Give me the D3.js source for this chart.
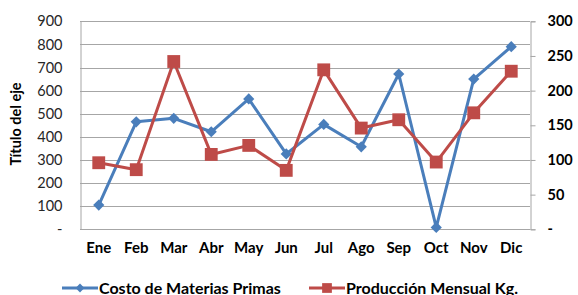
<!DOCTYPE html>
<html>
<head>
<meta charset="utf-8">
<script src="https://cdn.jsdelivr.net/npm/d3@7"></script>
<style>
  body { margin: 0; background: #fff; }
  text { font-family: Lato, "Liberation Sans", sans-serif; }
</style>
</head>
<body>
<div id="chart"></div>
<script>
const months = ["Ene", "Feb", "Mar", "Abr", "May", "Jun", "Jul", "Ago", "Sep", "Oct", "Nov", "Dic"]
const costo = [105, 465, 480, 422, 564, 326, 454, 357, 672, 8, 650, 790]
const produccion = [96, 86, 242, 108, 121, 85, 230, 146, 158, 97, 168, 228]
const leftTicks = [0, 100, 200, 300, 400, 500, 600, 700, 800, 900]
const rightTicks = [0, 50, 100, 150, 200, 250, 300]

const W = 578, H = 295
const plot = { left: 80, right: 530, top: 21.3, bottom: 229.3 }
const blue = "#4A7EBB", red = "#BE4B48"

const svg = d3.select("#chart").append("svg")
  .attr("width", W)
  .attr("height", H)

const x = d3.scaleBand().domain(months).range([plot.left, plot.right])
const yL = d3.scaleLinear().domain([0, 900]).range([plot.bottom, plot.top])
const yR = d3.scaleLinear().domain([0, 300]).range([plot.bottom, plot.top])

// gridlines
svg.append("g")
  .selectAll("line")
  .data(leftTicks.slice(1))
  .enter().append("line")
    .attr("x1", plot.left).attr("x2", plot.right)
    .attr("y1", d => Math.round(yL(d)) + 0.5).attr("y2", d => Math.round(yL(d)) + 0.5)
    .attr("stroke", "#a6a6a6").attr("stroke-width", 1)

// left axis
const leftAxis = svg.append("g")
  .attr("transform", `translate(${plot.left + 0.5},0)`)
  .call(d3.axisLeft(yL).tickValues(leftTicks).tickSize(0).tickPadding(18)
    .tickFormat(d => d === 0 ? "-" : d))
leftAxis.select(".domain").attr("stroke", "#a6a6a6")
leftAxis.selectAll("text")
  .attr("font-size", 14.5).attr("fill", "#262626")
  .style("font-family", "Lato, sans-serif")

// right axis
const rightAxis = svg.append("g")
  .attr("transform", `translate(${plot.right + 0.5},0)`)
  .call(d3.axisRight(yR).tickValues(rightTicks).tickSize(5).tickPadding(12)
    .tickFormat(d => d === 0 ? "-" : d))
rightAxis.select(".domain").attr("stroke", "#a6a6a6")
rightAxis.selectAll(".tick line").attr("stroke", "#a6a6a6")
rightAxis.selectAll("text")
  .attr("font-size", 14.5).attr("font-weight", "bold").attr("fill", "#000")
  .style("font-family", "Lato, sans-serif")

// bottom axis line
svg.append("line")
  .attr("x1", plot.left).attr("x2", plot.right + 0.5)
  .attr("y1", Math.round(plot.bottom) + 0.5).attr("y2", Math.round(plot.bottom) + 0.5)
  .attr("stroke", "#a6a6a6")

// x labels
svg.append("g")
  .selectAll("text")
  .data(months)
  .enter().append("text")
    .attr("x", d => x(d) + x.bandwidth() / 2)
    .attr("y", 253)
    .attr("text-anchor", "middle")
    .attr("font-size", 15).attr("font-weight", "bold").attr("fill", "#000")
    .text(d => d)

// y title
svg.append("text")
  .attr("transform", "translate(21,124) rotate(-90)")
  .attr("text-anchor", "middle")
  .attr("font-size", 14.5).attr("font-weight", "bold").attr("fill", "#000")
  .text("Título del eje")

const cx = (d, i) => x(months[i]) + x.bandwidth() / 2
const diamond = d3.symbol().type(d3.symbolDiamond2).size(80)
const square = d3.symbol().type(d3.symbolSquare).size(165)

// costo series
svg.append("path")
  .datum(costo)
  .attr("fill", "none").attr("stroke", blue).attr("stroke-width", 3)
  .attr("stroke-linejoin", "round")
  .attr("d", d3.line().x(cx).y(d => yL(d)))
svg.append("g")
  .selectAll("path")
  .data(costo)
  .enter().append("path")
    .attr("d", diamond)
    .attr("transform", (d, i) => `translate(${cx(d, i)},${yL(d)})`)
    .attr("fill", blue)

// produccion series
svg.append("path")
  .datum(produccion)
  .attr("fill", "none").attr("stroke", red).attr("stroke-width", 3)
  .attr("stroke-linejoin", "round")
  .attr("d", d3.line().x(cx).y(d => yR(d)))
svg.append("g")
  .selectAll("path")
  .data(produccion)
  .enter().append("path")
    .attr("d", square)
    .attr("transform", (d, i) => `translate(${cx(d, i)},${yR(d)})`)
    .attr("fill", red)

// legend
const legend = [
  { name: "Costo de Materias Primas", color: blue, sym: d3.symbol().type(d3.symbolDiamond2).size(50), x: 62 },
  { name: "Producción Mensual Kg.", color: red, sym: d3.symbol().type(d3.symbolSquare).size(95), x: 309 }
]
const lg = svg.append("g").selectAll("g")
  .data(legend)
  .enter().append("g")
    .attr("transform", d => `translate(${d.x},288)`)
lg.append("line")
  .attr("x1", 0).attr("x2", 36)
  .attr("stroke", d => d.color).attr("stroke-width", 3)
lg.append("path")
  .attr("d", d => d.sym())
  .attr("transform", "translate(18,0)")
  .attr("fill", d => d.color)
lg.append("text")
  .attr("x", 37).attr("y", 5.5)
  .attr("font-size", 16).attr("font-weight", "bold").attr("fill", "#000")
  .text(d => d.name)
</script>
</body>
</html>
